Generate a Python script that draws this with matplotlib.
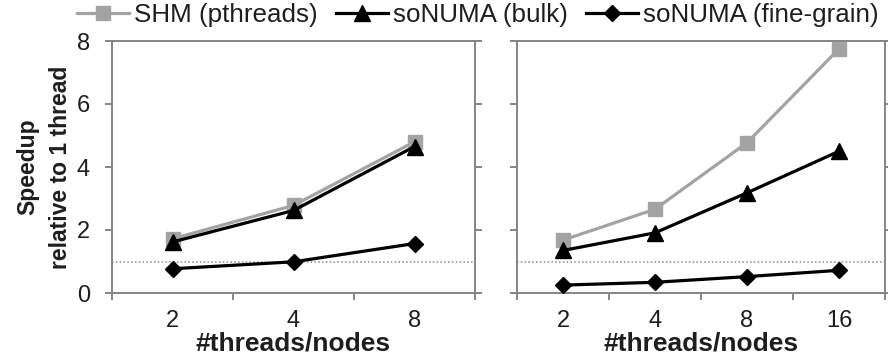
import matplotlib
matplotlib.use("Agg")
import matplotlib.pyplot as plt

plt.rcParams['font.family'] = ['Liberation Sans', 'DejaVu Sans']

# left panel: SHM vs soNUMA, 2..8 threads/nodes
left_cats = ['2', '4', '8']
left_shm = [1.72, 2.78, 4.80]
left_bulk = [1.62, 2.62, 4.65]
left_fine = [0.77, 0.99, 1.57]

# right panel: 2..16
right_cats = ['2', '4', '8', '16']
right_shm = [1.68, 2.66, 4.77, 7.75]
right_bulk = [1.35, 1.91, 3.18, 4.50]
right_fine = [0.25, 0.34, 0.52, 0.72]

yticks = [0, 2, 4, 6, 8]
baseline = 1.0

gray = '#a3a3a3'
frame = '#858585'
txt = '#1e1e1e'

fig = plt.figure(figsize=(8.88, 3.6), dpi=100)
ax1 = fig.add_axes([112/888, 67/360, 363/888, 252/360])
ax2 = fig.add_axes([517/888, 67/360, 368/888, 252/360])

def panel(ax, cats, shm, bulk, fine):
    x = list(range(len(cats)))
    ax.axhline(baseline, color='#8a8a8a', lw=1.1, ls=(0, (1, 1.5)), zorder=1)
    ax.plot(x, shm, color=gray, lw=2.3, marker='s', ms=10, label='SHM (pthreads)', zorder=3)
    ax.plot(x, bulk, color='black', lw=2.3, marker='^', ms=11, label='soNUMA (bulk)', zorder=4)
    ax.plot(x, fine, color='black', lw=2.3, marker='D', ms=8, label='soNUMA (fine-grain)', zorder=4)
    ax.set_xlim(-0.5, len(cats) - 0.5)
    ax.set_ylim(0, 8)
    ax.set_yticks(yticks)
    # category boundaries as major ticks, labels on minor ticks
    ax.set_xticks([i - 0.5 for i in range(len(cats) + 1)])
    ax.set_xticklabels([])
    ax.set_xticks(x, minor=True)
    ax.set_xticklabels(cats, minor=True)
    ax.tick_params(axis='x', which='major', direction='out', length=5, width=1.4, color=frame)
    ax.tick_params(axis='x', which='minor', length=0, pad=12, labelsize=17, labelcolor=txt)
    ax.tick_params(axis='y', direction='out', length=5, width=1.4, color=frame,
                   right=True, pad=11, labelsize=17, labelcolor=txt)
    for s in ax.spines.values():
        s.set_color(frame)
        s.set_linewidth(1.4)
    ax.set_xlabel('#threads/nodes', fontsize=19, fontweight='bold', labelpad=0, color=txt)

panel(ax1, left_cats, left_shm, left_bulk, left_fine)
panel(ax2, right_cats, right_shm, right_bulk, right_fine)
ax2.tick_params(axis='y', labelleft=False)

ax1.set_ylabel('Speedup\nrelative to 1 thread', fontsize=16.5, fontweight='bold',
               labelpad=3, linespacing=1.55, color=txt)

handles, labels = ax1.get_legend_handles_labels()
fig.legend(handles, labels, loc='center', bbox_to_anchor=(478/888, 1 - 15/360), ncol=3,
           frameon=False, fontsize=18.7, handlelength=2.0, handletextpad=0.2,
           columnspacing=0.7, borderaxespad=0, borderpad=0, labelcolor=txt)

fig.savefig('out.png', dpi=100)
